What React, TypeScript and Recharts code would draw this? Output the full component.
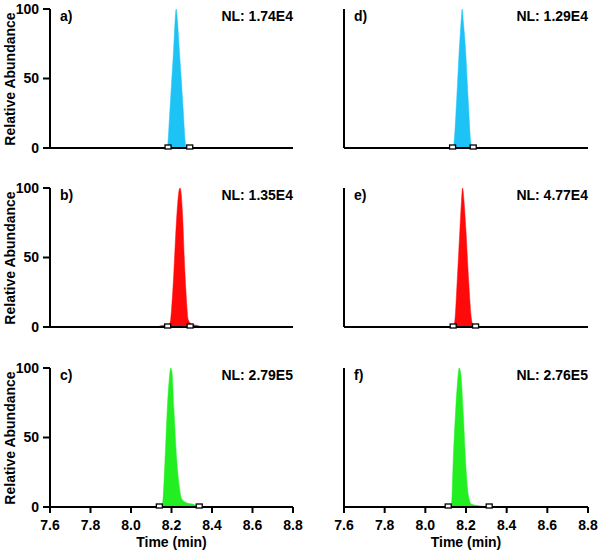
import React from "react";
import { ComposedChart, Area, Scatter, XAxis, YAxis } from "recharts";

const timeTicks = [7.6, 7.8, 8.0, 8.2, 8.4, 8.6, 8.8];
const abundanceTicks = [0, 50, 100];

// a) cyan
const aTime = [8.176, 8.181, 8.19, 8.2, 8.21, 8.218, 8.223, 8.228, 8.238, 8.248, 8.258, 8.268, 8.274];
const aAbund = [0, 2, 22, 46, 70, 92, 100, 94, 72, 50, 27, 4, 0];
const aMarks = [8.183, 8.29];

// b) red
const bTime = [8.125, 8.15, 8.18, 8.193, 8.2, 8.21, 8.22, 8.23, 8.237, 8.242, 8.247, 8.255, 8.263, 8.272, 8.283, 8.3, 8.33, 8.35];
const bAbund = [0, 1, 1.5, 3, 12, 35, 64, 88, 98, 100, 97, 80, 50, 24, 5, 2, 1, 0];
const bMarks = [8.181, 8.292];

// c) green
const cTime = [8.15, 8.1565, 8.168, 8.179, 8.189, 8.196, 8.2025, 8.212, 8.2257, 8.2385, 8.25, 8.275, 8.316, 8.33];
const cAbund = [0, 3, 34, 70, 92, 100, 97, 70, 34, 15, 6, 3, 1.5, 0];
const cMarks = [8.14, 8.337];

// d) cyan
const dTime = [8.137, 8.1405, 8.1538, 8.1666, 8.1764, 8.1813, 8.1863, 8.198, 8.211, 8.224, 8.228];
const dAbund = [0, 3, 34, 70, 92, 100, 92, 70, 34, 3, 0];
const dMarks = [8.134, 8.2355];

// e) red
const eTime = [8.14, 8.1454, 8.157, 8.17, 8.178, 8.183, 8.19, 8.1995, 8.2128, 8.2275, 8.2355, 8.24];
const eAbund = [0, 5, 34, 70, 91, 100, 91, 70, 34, 5, 1, 0];
const eMarks = [8.137, 8.247];

// f) green
const fTime = [8.0, 8.1, 8.125, 8.129, 8.137, 8.149, 8.159, 8.1667, 8.175, 8.186, 8.198, 8.211, 8.2275, 8.2845, 8.31];
const fAbund = [0, 0.5, 1, 2, 33, 69, 91, 100, 95, 69, 33, 9, 2, 0.5, 0];
const fMarks = [8.1125, 8.314];

const CYAN = "#1EC3F5";
const RED = "#FF0a0a";
const GREEN = "#22EE22";
const FONT = '"Liberation Sans", Arial, sans-serif';

const rowTops = [9, 188, 368];
const PLOT_H = 139;
const TOP_M = 12;

const toRows = (t: number[], v: number[]) => t.map((x, i) => ({ t: x, v: v[i] }));

const Square = (props: any) => {
  const { cx, cy } = props;
  return <rect x={cx - 3} y={cy - 3} width={6} height={4} fill="#fff" stroke="#000" strokeWidth={1.3} />;
};

const tickStyle = { fontSize: 14, fontWeight: "bold", fill: "#000", fontFamily: FONT };
const lineStyle = { stroke: "#000", strokeWidth: 2 };

const textStyle: React.CSSProperties = {
  position: "absolute",
  fontFamily: FONT,
  fontWeight: "bold",
  fontSize: 14,
  lineHeight: "16px",
  color: "#000",
  whiteSpace: "nowrap",
};

function Panel(props: {
  time: number[];
  abund: number[];
  marks: number[];
  color: string;
  tag: string;
  nl: string;
  col: number;
  row: number;
}) {
  const { time, abund, marks, color, tag, nl, col, row } = props;
  const left = col === 0 ? 0 : 300;
  const plotTop = rowTops[row];
  const yw = col === 0 ? 50 : 44;
  const mr = col === 0 ? 7 : 12;
  const plotLeft = left + yw;
  const plotRight = left + 300 - mr;
  return (
    <>
      <div style={{ position: "absolute", left, top: plotTop - TOP_M }}>
        <ComposedChart width={300} height={TOP_M + PLOT_H + 32} margin={{ top: TOP_M, right: mr, bottom: 0, left: 0 }}>
          <XAxis
            type="number"
            dataKey="t"
            domain={[7.6, 8.8]}
            ticks={timeTicks}
            interval={0}
            allowDataOverflow
            height={32}
            tickSize={6}
            tickMargin={7}
            axisLine={lineStyle}
            tickLine={lineStyle}
            tick={row === 2 ? tickStyle : false}
            tickFormatter={(v: number) => v.toFixed(1)}
          />
          <YAxis
            type="number"
            domain={[0, 100]}
            ticks={abundanceTicks}
            interval={0}
            width={yw}
            tickSize={7}
            tickMargin={4}
            axisLine={lineStyle}
            tickLine={lineStyle}
            tick={col === 0 ? tickStyle : false}
          />
          <Area
            data={toRows(time, abund)}
            dataKey="v"
            type="monotone"
            fill={color}
            fillOpacity={1}
            stroke={color}
            strokeWidth={0.5}
            isAnimationActive={false}
          />
          <Scatter
            data={toRows(marks, marks.map(() => 0))}
            dataKey="v"
            shape={Square}
            isAnimationActive={false}
          />
        </ComposedChart>
      </div>
      <div style={{ ...textStyle, left: plotLeft + 10, top: plotTop - 1 }}>{tag}</div>
      <div style={{ ...textStyle, left: plotRight - 200, width: 200, textAlign: "right", top: plotTop - 1 }}>{nl}</div>
      {col === 0 && (
        <div
          style={{
            ...textStyle,
            left: 10 - 80,
            width: 160,
            textAlign: "center",
            top: plotTop + PLOT_H / 2 - 8,
            transform: "rotate(-90deg)",
          }}
        >
          Relative Abundance
        </div>
      )}
      {row === 2 && (
        <div
          style={{
            ...textStyle,
            left: (plotLeft + plotRight) / 2 - 60,
            width: 120,
            textAlign: "center",
            top: 534,
          }}
        >
          Time (min)
        </div>
      )}
    </>
  );
}

export default function App() {
  return (
    <div style={{ position: "absolute", left: 0, top: 0, width: 600, height: 553, background: "#fff" }}>
      <style>{"svg{overflow:visible}"}</style>
      <Panel time={aTime} abund={aAbund} marks={aMarks} color={CYAN} tag="a)" nl="NL: 1.74E4" col={0} row={0} />
      <Panel time={bTime} abund={bAbund} marks={bMarks} color={RED} tag="b)" nl="NL: 1.35E4" col={0} row={1} />
      <Panel time={cTime} abund={cAbund} marks={cMarks} color={GREEN} tag="c)" nl="NL: 2.79E5" col={0} row={2} />
      <Panel time={dTime} abund={dAbund} marks={dMarks} color={CYAN} tag="d)" nl="NL: 1.29E4" col={1} row={0} />
      <Panel time={eTime} abund={eAbund} marks={eMarks} color={RED} tag="e)" nl="NL: 4.77E4" col={1} row={1} />
      <Panel time={fTime} abund={fAbund} marks={fMarks} color={GREEN} tag="f)" nl="NL: 2.76E5" col={1} row={2} />
    </div>
  );
}
